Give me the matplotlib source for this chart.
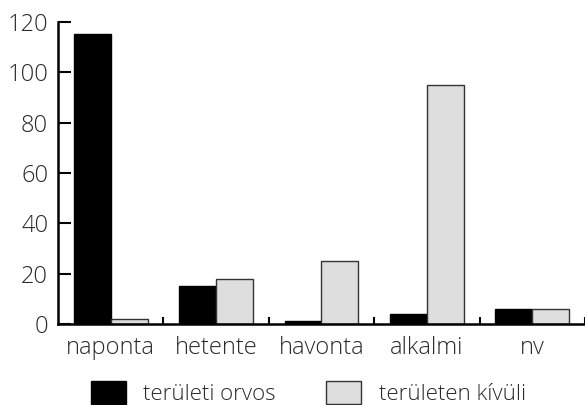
import numpy as np
import matplotlib
matplotlib.use("Agg")
import matplotlib.pyplot as plt

categories = ['naponta', 'hetente', 'havonta', 'alkalmi', 'nv']
teruleti_orvos = [115, 15, 1, 4, 6]
teruleten_kivuli = [2, 18, 25, 95, 6]
series_names = ['területi orvos', 'területen kívüli']
y_ticks = [0, 20, 40, 60, 80, 100, 120]

plt.rcParams['font.family'] = ['Open Sans', 'DejaVu Sans']
plt.rcParams['font.weight'] = 'light'
text_col = '#2a2a2a'

fig = plt.figure(figsize=(5.85, 4.05), dpi=100)
ax = fig.add_axes([0.099, 0.2, 0.901, 0.746])

x = np.arange(len(categories))
w = 0.35
b1 = ax.bar(x - w/2, teruleti_orvos, w, color='black', edgecolor='black', linewidth=1)
b2 = ax.bar(x + w/2, teruleten_kivuli, w, color='#dddddd', edgecolor='#333333', linewidth=1)

ax.set_xlim(-0.5, len(categories) - 0.5)
ax.set_ylim(0, 120)
ax.set_yticks(y_ticks)
ax.set_xticks(x)
ax.set_xticklabels(categories)
ax.set_xticks(list(x + 0.5), minor=True)

ax.tick_params(axis='y', direction='in', length=9.5, width=1.5, labelsize=17,
               labelcolor=text_col, pad=7)
ax.tick_params(axis='x', which='major', length=0, labelsize=17,
               labelcolor=text_col, pad=9)
ax.tick_params(axis='x', which='minor', direction='in', length=5, width=1.5)

for s in ['top', 'right']:
    ax.spines[s].set_visible(False)
for s in ['left', 'bottom']:
    ax.spines[s].set_linewidth(1.8)

fig.legend([b1, b2], series_names, loc='center', bbox_to_anchor=(0.527, 0.03),
           ncol=2, frameon=False, fontsize=16, handlelength=1.58, handleheight=1.2,
           handletextpad=0.8, columnspacing=2.25, labelcolor=text_col)

fig.savefig('out.png', dpi=100)
